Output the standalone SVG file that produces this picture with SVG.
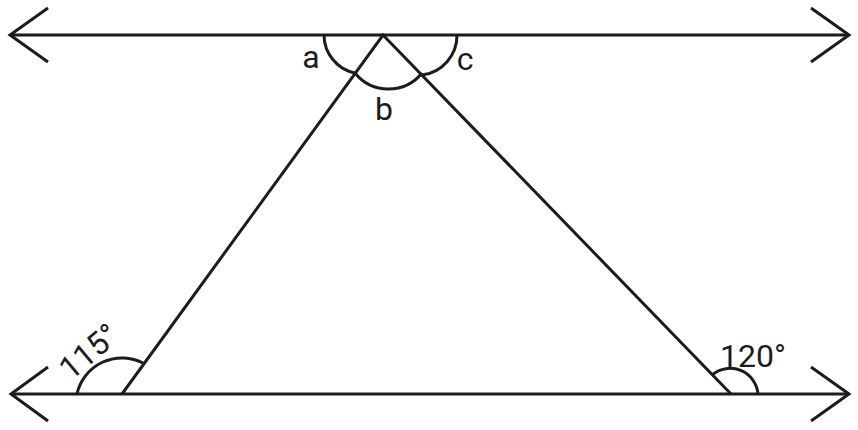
<svg xmlns="http://www.w3.org/2000/svg" width="858" height="430" viewBox="0 0 858 430">
<style>
.ln{fill:none;stroke:#1c1c1c;stroke-width:3;stroke-linecap:butt;stroke-linejoin:miter}
.arc{fill:none;stroke:#1c1c1c;stroke-width:3}
.lb{font-family:Roboto,"Liberation Sans",sans-serif;font-size:32px;fill:#1c1c1c}
</style>
<rect width="858" height="430" fill="#ffffff"/>
<g id="connectors">
<path class="ln" d="M10,35 H849"/>
<path class="ln" d="M48,8 L10,35 L48,62"/>
<path class="ln" d="M811,8 L849,35 L811,62"/>
<path class="ln" d="M11,394 H849"/>
<path class="ln" d="M48,367 L11,394 L48,421"/>
<path class="ln" d="M811,367 L849,394 L811,421"/>
<path class="ln" d="M122,394 L383,35 L731,394"/>
</g>
<g id="angle-a">
<path class="arc" d="M324,35 A39,39 0 0,0 355,73"/>
<text class="lb" x="311" y="68" text-anchor="middle">a</text>
</g>
<g id="angle-b">
<path class="arc" d="M355,73 A43,43 0 0,0 422,73"/>
<text class="lb" x="384" y="120" text-anchor="middle">b</text>
</g>
<g id="angle-c">
<path class="arc" d="M422,75 A40,40 0 0,0 457,35"/>
<text class="lb" x="465" y="70" text-anchor="middle">c</text>
</g>
<g id="angle-115">
<path class="arc" d="M77,394 A46,46 0 0,1 143,363"/>
<text class="lb" transform="translate(96,360) rotate(-40)" text-anchor="middle">115°</text>
</g>
<g id="angle-120">
<path class="arc" d="M712,375 A28,28 0 0,1 758,394"/>
<text class="lb" x="753" y="367" text-anchor="middle">120°</text>
</g>
</svg>
